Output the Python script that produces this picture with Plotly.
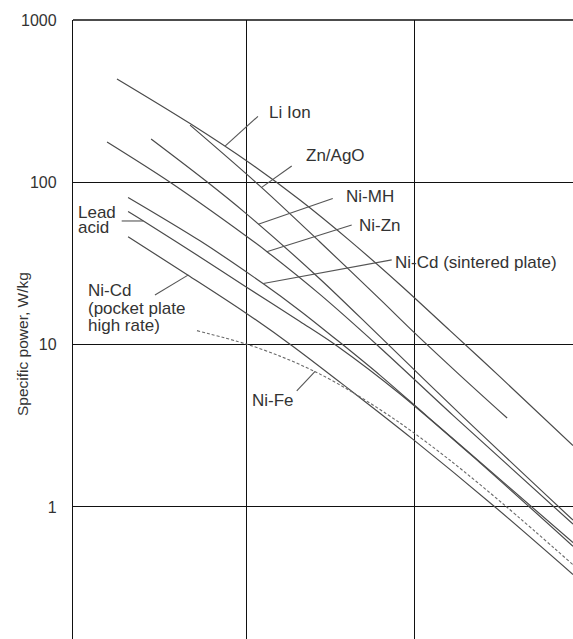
import plotly.graph_objects as go

# ---- data (x axis unlabeled; gridlines at x=1, 2) ----
li_ion_x = [0.232, 0.667, 1.024, 1.321, 1.619, 1.917, 2.214, 2.512, 2.946]
li_ion_y = [433, 230, 131, 77.8, 43.6, 23.4, 12.2, 6.33, 2.39]

znago_x = [0.667, 1.095, 1.440, 1.798, 2.0, 2.274, 2.554]
znago_y = [225, 92.5, 42.9, 19.0, 11.9, 6.47, 3.53]

nimh_x = [0.435, 0.756, 0.994, 1.440, 1.798, 2.292, 2.946]
nimh_y = [185, 103, 65.1, 25.4, 11.2, 3.59, 0.830]

nizn_x = [0.173, 0.548, 0.994, 1.125, 1.440, 1.798, 2.232, 2.946]
nizn_y = [177, 100, 47.2, 37.4, 20.4, 9.58, 3.67, 0.784]

nicd_sint_x = [0.298, 0.726, 1.101, 1.321, 1.560, 1.798, 2.077, 2.512, 2.946]
nicd_sint_y = [80.7, 43.6, 23.8, 16.2, 10.3, 6.47, 3.63, 1.48, 0.603]

lead_x = [0.298, 0.387, 0.726, 0.994, 1.321, 1.548, 1.917, 2.393, 2.946]
lead_y = [66.1, 58.0, 34.7, 22.9, 13.9, 9.72, 4.97, 1.87, 0.573]

nicd_pock_x = [0.298, 0.655, 0.994, 1.274, 1.619, 1.994, 2.482, 2.946]
nicd_pock_y = [46.2, 26.8, 15.8, 9.86, 5.26, 2.61, 1.0, 0.384]

nife_x = [0.708, 1.0, 1.202, 1.411, 1.619, 1.917, 2.214, 2.542, 2.946]
nife_y = [12.2, 10.1, 8.50, 6.82, 5.20, 3.29, 1.94, 1.02, 0.441]

y_tick_vals = [1, 10, 100, 1000]
y_tick_text = ["1", "10", "100", "1000"]
x_grid_vals = [1, 2]

# leader lines: (x0, y0) near label -> (x1, y1) on curve
leaders = {
    "Li Ion": ([1.071, 0.875], [255, 167]),
    "Zn/AgO": ([1.272, 1.093], [126, 93.1]),
    "Ni-MH": ([1.516, 1.073], [79.6, 55.2]),
    "Ni-Zn": ([1.629, 1.123], [54.6, 37.4]),
    "Ni-Cd (sintered plate)": ([1.867, 1.103], [33.3, 23.8]),
    "Lead acid": ([0.260, 0.389], [57.8, 57.8]),
    "Ni-Cd pocket": ([0.458, 0.657], [20.2, 26.9]),
    "Ni-Fe": ([1.302, 1.411], [5.20, 6.85]),
}

CURVE = "#4a4a4a"
FONT = "Arial, Liberation Sans, Helvetica, sans-serif"

fig = go.Figure()

series = [
    (li_ion_x, li_ion_y),
    (znago_x, znago_y),
    (nimh_x, nimh_y),
    (nizn_x, nizn_y),
    (nicd_sint_x, nicd_sint_y),
    (lead_x, lead_y),
    (nicd_pock_x, nicd_pock_y),
]
for xs, ys in series:
    fig.add_trace(go.Scatter(x=xs, y=ys, mode="lines",
                             line=dict(color=CURVE, width=1.2, shape="spline", smoothing=0.9),
                             hoverinfo="skip", showlegend=False))
fig.add_trace(go.Scatter(x=nife_x, y=nife_y, mode="lines",
                         line=dict(color="#6a6a6a", width=1.1, dash="3px,2px", shape="spline", smoothing=0.9),
                         hoverinfo="skip", showlegend=False))

for name, (lx, ly) in leaders.items():
    fig.add_trace(go.Scatter(x=lx, y=ly, mode="lines",
                             line=dict(color="#555555", width=1.1),
                             hoverinfo="skip", showlegend=False))

# labels (paper coordinates); stacked lines get a compact box height
labels = [
    ("Li Ion", 0.3874, 0.8503, None),
    ("Zn/AgO", 0.462, 0.7803, None),
    ("Ni-MH", 0.542, 0.7141, None),
    ("Ni-Zn", 0.5686, 0.6688, None),
    ("Ni-Cd (sintered plate)", 0.6406, 0.6079, None),
    ("Lead", 0.008, 0.6887, 15),
    ("acid", 0.008, 0.6640, 15),
    ("Ni-Cd", 0.0274, 0.5638, 17),
    ("(pocket plate", 0.0274, 0.5342, 17),
    ("high rate)", 0.0274, 0.5057, 17),
    ("Ni-Fe", 0.354, 0.3861, None),
]
for txt, xp, yp, h in labels:
    kw = {}
    if h is not None:
        kw = dict(height=h, borderpad=0, valign="middle")
    fig.add_annotation(text=txt, x=xp, y=yp, xref="paper", yref="paper",
                       xanchor="left", yanchor="middle", showarrow=False,
                       font=dict(family=FONT, size=17, color="#333333"), **kw)

fig.add_annotation(text="Specific power, W/kg", x=-0.1, y=0.4766, xref="paper", yref="paper",
                   textangle=-90, showarrow=False, xanchor="center", yanchor="middle",
                   font=dict(family=FONT, size=15.5, color="#333333"))

# top border line
fig.add_shape(type="line", xref="paper", yref="paper", x0=0, x1=1, y0=1, y1=1,
              line=dict(color="#111111", width=1.3))

fig.update_layout(
    width=573, height=639,
    margin=dict(l=73, r=0, t=20, b=0),
    paper_bgcolor="white", plot_bgcolor="white",
    xaxis=dict(range=[-0.0298, 2.946], tickvals=x_grid_vals, showticklabels=False,
               showgrid=True, gridcolor="#111111", gridwidth=1.3, zeroline=False,
               showline=False, ticks=""),
    yaxis=dict(type="log", range=[-0.8132, 3.0], tickvals=y_tick_vals, ticktext=y_tick_text,
               showgrid=True, gridcolor="#111111", gridwidth=1.3, zeroline=False,
               showline=True, linecolor="#111111", linewidth=1.3, ticks="",
               ticklabelstandoff=12,
               tickfont=dict(family=FONT, size=16, color="#333333")),
)

fig.write_html("out.html")
